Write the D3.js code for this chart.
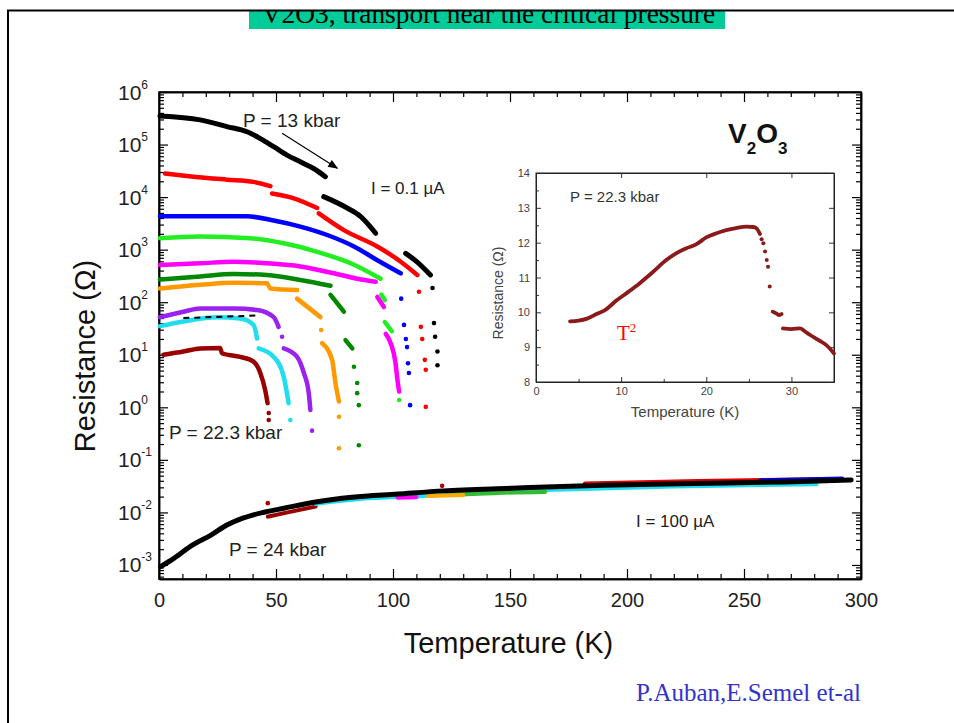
<!DOCTYPE html>
<html><head><meta charset="utf-8">
<script src="https://cdn.jsdelivr.net/npm/d3@7"></script>
<style>body{margin:0;background:#fff}svg{display:block}</style>
</head><body>
<svg id="c" width="954" height="723"></svg>
<script>
// ---------------- DATA ----------------
const xTickLabels = [0, 50, 100, 150, 200, 250, 300];
const yTickExponents = [-3, -2, -1, 0, 1, 2, 3, 4, 5, 6];
const insetXTicks = [0, 10, 20, 30];
const insetYTicks = [8, 9, 10, 11, 12, 13, 14];

// I = 0.1 uA curves: [T (K), R (ohm)] ; segments + scattered points
const black13Segs = [
  [[0.4,3.5e5],[17.6,2.95e5],[29,2.2e5],[37.6,1.75e5],[43.3,1.3e5],[49,9.1e4],[54.7,6.3e4],[60.4,4.7e4],[66.1,3.5e4],[71.1,2.45e4]],
  [[70.4,1.02e4],[80.4,6.2e3],[86.1,4.3e3],[92.6,2.05e3]],
  [[105.4,850],[110,600],[116,330]]
];
const black13Pts = [[116.9,186],[117.5,40],[118,22],[119,11.5],[119,6.3]];

const redSegs = [
  [[2.6,2.8e4],[14.7,2.45e4],[29,2.15e4],[40.4,1.95e4],[47.6,1.62e4]],
  [[48.3,1.17e4],[57.6,9.5e3],[67.6,6.2e3]],
  [[68.3,4.9e3],[79,2.35e3],[93.3,1.15e3],[103.3,590],[110.4,330]]
];
const redPts = [[111.1,158],[111.9,34],[112.5,20],[113.6,8],[114,5.2],[114,1.02]];

const blueSegs = [
  [[0.4,4.3e3],[37.6,4.3e3],[49,3.6e3],[60.4,2.75e3],[71.9,1.9e3],[83.3,1.15e3],[93.3,630],[103.3,355]]
];
const bluePts = [[103.5,117],[104.7,37],[105.5,20],[106,14],[106.4,6.9],[106.8,4.5],[107.3,1.1]];

const greenSegs = [
  [[0.4,1.65e3],[17.6,1.78e3],[39,1.65e3],[53.3,1.32e3],[67.6,910],[81.9,550],[94.7,280]],
  [[95,140],[96.5,110]],
  [[96.5,42],[99.5,28]]
];
const greenPts = [[102.6,1.38]];

const magentaSegs = [
  [[0.4,510],[17.6,550],[31.9,590],[46.1,550],[60.4,480],[74.7,355],[84.7,280],[92.6,245]],
  [[93.3,126],[96.1,81]],
  [[96.9,25],[99,16.6],[101.1,6.9],[101.9,3.3],[102.6,2.0]]
];
const magentaPts = [];

const dkgreenSegs = [
  [[0.4,270],[17.6,310],[31.9,345],[46.1,330],[60.4,265],[73.3,205]],
  [[73.3,138],[79,66]],
  [[79.7,19],[82.6,13.2]]
];
const dkgreenPts = [[83.3,5.9],[84.7,2.9],[84.7,1.86],[85.4,1.1],[85.4,0.19]];

const orangeSegs = [
  [[0.4,182],[17.6,214],[31.9,234],[46.1,229],[47.6,182],[59,170]],
  [[59,117],[69,52]],
  [[69.7,16.6],[74,7.9],[75.4,2.9],[76.9,1.29]]
];
const orangePts = [[69.3,29.5],[76.9,0.66],[76.9,0.166]];

const purpleSegs = [
  [[0.4,52],[10.4,66],[17.6,76],[31.9,76],[41.9,71],[49,52],[51.1,34]],
  [[53.3,13.2],[59,9.1],[61.9,4.5],[64,1.86],[64.7,0.89]]
];
const purplePts = [[52.6,22],[65.4,0.36]];

const cyanSegs = [
  [[0.4,35],[10.4,43],[24.7,52],[34.7,49],[40.4,37],[41.9,20.4]],
  [[42.6,13.2],[49,9.1],[53.3,3.8],[55.4,1.2]]
];
const cyanPts = [[56.1,0.575]];

const blackDashed = [[10.4,50],[43.3,56]];

const dkredSegs = [
  [[1.9,10],[10.4,11.5],[17.6,13.2],[26.1,13.5],[26.9,10.7],[34.7,9.1],[40.4,7.4],[43.3,4.5],[45.4,2.1],[46.4,1.2]]
];
const dkredPts = [[46.9,0.78],[46.9,0.575]];

// I = 100 uA (metallic, P = 24 kbar)
const black24 = [[0.7,9.3e-4],[6.5,1.35e-3],[14.4,2.4e-3],[22.2,3.7e-3],[29,5.75e-3],[35.8,7.8e-3],[45.5,1.02e-2],[53.3,1.2e-2],[66.9,1.58e-2],[82.5,1.95e-2],[102,2.24e-2],[121.5,2.57e-2],[150.7,2.88e-2],[189.7,3.3e-2],[228.6,3.55e-2],[267.6,3.8e-2],[295.8,4.15e-2]];
const metalDkred = [[46.5,8.3e-3],[55,1.0e-2],[66.9,1.29e-2]];
const metalCyan = [[66.9,1.45e-2],[90,1.85e-2],[111.7,2.04e-2],[140,2.4e-2],[170,2.7e-2],[220,3.1e-2],[281,3.45e-2]];
const metalGreen = [[125,2.15e-2],[145,2.35e-2],[165,2.45e-2]];
const metalMagenta = [[102,1.9e-2],[110,1.95e-2]];
const metalOrange = [[115,2.05e-2],[130,2.15e-2]];
const metalRed = [[182,3.55e-2],[230,3.95e-2],[286,4.3e-2]];
const metalBlue = [[257,4.1e-2],[292,4.4e-2]];
const metalRedPts = [[46.5,1.5e-2],[121,3.2e-2]];

const arrow13 = [[52.6,1.64e5],[76.2,3.53e4]];

// Inset: P = 22.3 kbar, linear
const insetSeg1 = [[4,9.74],[5,9.76],[6,9.82],[7.1,9.95],[8.2,10.08],[9.4,10.33],[10.8,10.58],[12.15,10.83],[13.7,11.15],[15.3,11.5],[16.5,11.7],[17.65,11.84],[18.8,11.95],[20,12.15],[21.2,12.27],[22.35,12.36],[23.5,12.42],[24.7,12.46],[25.5,12.45],[25.9,12.41],[26.3,12.25]];
const insetPts = [[26.5,12.1],[26.7,11.98],[26.9,11.75],[27.1,11.5],[27.25,11.31],[27.45,10.74]];
const insetSeg2 = [[27.8,10.02],[28.2,9.97],[28.6,9.92],[28.85,9.95]];
const insetSeg3 = [[29.0,9.54],[30.0,9.52],[31.0,9.54],[31.6,9.45],[32.2,9.35],[33.2,9.2],[34.1,9.06],[35.0,8.82]];

// ---------------- DRAW ----------------
const SANS = "'Liberation Sans', Arial, Helvetica, sans-serif";
const SERIF = "'Liberation Serif', 'Times New Roman', serif";
const svg = d3.select("#c");

// page decoration / title
svg.append("defs").append("clipPath").attr("id","tclip")
  .append("rect").attr("x",0).attr("y",11).attr("width",954).attr("height",40);
svg.append("rect").attr("x",249).attr("y",10).attr("width",476).attr("height",19).attr("fill","#00CC99");
svg.append("text").attr("x",488.5).attr("y",23).attr("text-anchor","middle")
  .attr("font-family",SERIF).attr("font-size",27.4).attr("fill","#000")
  .attr("clip-path","url(#tclip)").text("V2O3, transport near the critical pressure");
svg.append("line").attr("x1",7).attr("x2",954).attr("y1",10.5).attr("y2",10.5).attr("stroke","#000").attr("stroke-width",2);
svg.append("line").attr("x1",8).attr("x2",8).attr("y1",10).attr("y2",723).attr("stroke","#000").attr("stroke-width",2);

svg.append("text").attr("x",636).attr("y",701).attr("font-family",SERIF).attr("font-size",25)
  .attr("fill","#3333CC").text("P.Auban,E.Semel et-al");

// main scales
const x = d3.scaleLinear().domain([0,300]).range([159,861]);
const y = d3.scaleLog().domain([Math.pow(10,-3.267),1e6]).range([579,92]);

const yMajor = yTickExponents.map(e => Math.pow(10,e));
const yMinor = [];
for (let e=-4; e<=5; e++) for (let m=2; m<=9; m++) {
  const v = m*Math.pow(10,e);
  if (v >= y.domain()[0] && v <= 1e6) yMinor.push(v);
}
const xMinor = d3.range(0,301,10).filter(v => v % 50 !== 0);

function styleAxis(g){
  g.selectAll("path.domain").attr("stroke","#000").attr("stroke-width",1.5);
  g.selectAll(".tick line").attr("stroke","#000").attr("stroke-width",1.2);
  g.attr("font-family",SANS);
}
// bottom
svg.append("g").attr("transform","translate(0,579)")
  .call(d3.axisBottom(x).tickValues(xTickLabels).tickSize(-10).tickSizeOuter(0).tickPadding(14).tickFormat(d3.format("d")))
  .call(styleAxis).call(g=>g.selectAll("text").attr("font-size",20).attr("fill","#222"));
svg.append("g").attr("transform","translate(0,579)")
  .call(d3.axisBottom(x).tickValues(xMinor).tickSize(-5).tickSizeOuter(0).tickFormat(""))
  .call(styleAxis);
// top
svg.append("g").attr("transform","translate(0,92)")
  .call(d3.axisTop(x).tickValues(xTickLabels).tickSize(-10).tickSizeOuter(0).tickFormat(""))
  .call(styleAxis);
svg.append("g").attr("transform","translate(0,92)")
  .call(d3.axisTop(x).tickValues(xMinor).tickSize(-5).tickSizeOuter(0).tickFormat(""))
  .call(styleAxis);
// left
svg.append("g").attr("transform","translate(159,0)")
  .call(d3.axisLeft(y).tickValues(yMajor).tickSize(-9).tickSizeOuter(0).tickFormat(""))
  .call(styleAxis);
svg.append("g").attr("transform","translate(159,0)")
  .call(d3.axisLeft(y).tickValues(yMinor).tickSize(-5).tickSizeOuter(0).tickFormat(""))
  .call(styleAxis);
// right
svg.append("g").attr("transform","translate(861,0)")
  .call(d3.axisRight(y).tickValues(yMajor).tickSize(-9).tickSizeOuter(0).tickFormat(""))
  .call(styleAxis);
svg.append("g").attr("transform","translate(861,0)")
  .call(d3.axisRight(y).tickValues(yMinor).tickSize(-5).tickSizeOuter(0).tickFormat(""))
  .call(styleAxis);
svg.append("rect").attr("x",159).attr("y",92).attr("width",702).attr("height",487)
  .attr("fill","none").attr("stroke","#000").attr("stroke-width",1.5);

// y tick labels 10^n
yTickExponents.forEach(e => {
  const t = svg.append("text").attr("x",118).attr("y",y(Math.pow(10,e))+7.5)
    .attr("font-family",SANS).attr("font-size",21).attr("fill","#222").text("10");
  t.append("tspan").attr("dy",-11).attr("font-size",12).text(String(e));
});

// axis titles
svg.append("text").attr("x",508.5).attr("y",653).attr("text-anchor","middle")
  .attr("font-family",SANS).attr("font-size",29).attr("fill","#111").text("Temperature (K)");
svg.append("text").attr("transform","translate(95,356) rotate(-90)").attr("text-anchor","middle")
  .attr("font-family",SANS).attr("font-size",29).attr("fill","#111").text("Resistance (Ω)");

// curves
const line = d3.line().x(d=>x(d[0])).y(d=>y(d[1])).curve(d3.curveMonotoneX);
const plot = svg.append("g");
function drawSeries(segs, pts, color, w){
  segs.forEach(s => plot.append("path").attr("d",line(s)).attr("fill","none")
    .attr("stroke",color).attr("stroke-width",w).attr("stroke-linecap","round").attr("stroke-linejoin","round"));
  pts.forEach(p => plot.append("circle").attr("cx",x(p[0])).attr("cy",y(p[1])).attr("r",2.3).attr("fill",color));
}
// metallic colored traces first, then black
drawSeries([metalDkred],[], "#990000", 4);
drawSeries([metalCyan],[], "#22DDEE", 4);
drawSeries([metalGreen],[], "#33BB33", 4);
drawSeries([metalMagenta],[], "#FF00FF", 4);
drawSeries([metalOrange],[], "#FFAA00", 4);
drawSeries([metalRed],[], "#DD0000", 4);
drawSeries([metalBlue],[], "#0000DD", 4);
drawSeries([black24], [], "#000", 5);
metalRedPts.forEach(p => plot.append("circle").attr("cx",x(p[0])).attr("cy",y(p[1])).attr("r",2.3).attr("fill","#AA0000"));

drawSeries(black13Segs, black13Pts, "#000", 5);
drawSeries(redSegs, redPts, "#FF0000", 4.5);
drawSeries(blueSegs, bluePts, "#0000FF", 4.5);
drawSeries(greenSegs, greenPts, "#22EE22", 4.5);
drawSeries(magentaSegs, magentaPts, "#FF00FF", 4.5);
drawSeries(dkgreenSegs, dkgreenPts, "#008800", 4.5);
drawSeries(orangeSegs, orangePts, "#FF9900", 4.5);
drawSeries(purpleSegs, purplePts, "#9922EE", 4.5);
drawSeries(cyanSegs, cyanPts, "#22DDEE", 4.5);
drawSeries(dkredSegs, dkredPts, "#990000", 4.5);
plot.append("path").attr("d",d3.line().x(d=>x(d[0])).y(d=>y(d[1]))(blackDashed)).attr("fill","none").attr("stroke","#000")
  .attr("stroke-width",2).attr("stroke-dasharray","6,5");

// arrow
svg.select("defs").append("marker").attr("id","ah").attr("viewBox","0 0 10 10")
  .attr("refX",9).attr("refY",5).attr("markerWidth",12).attr("markerHeight",10).attr("orient","auto")
  .attr("markerUnits","userSpaceOnUse")
  .append("path").attr("d","M0,1 L10,5 L0,9 Z").attr("fill","#000");
plot.append("path").attr("d",d3.line().x(d=>x(d[0])).y(d=>y(d[1]))(arrow13)).attr("stroke","#000").attr("stroke-width",1.2)
  .attr("fill","none").attr("marker-end","url(#ah)");

// annotations
function label(xp, yp, txt, fs){
  return svg.append("text").attr("x",xp).attr("y",yp).attr("font-family",SANS)
    .attr("font-size",fs).attr("fill","#222").text(txt);
}
label(243,127,"P = 13 kbar",19);
label(371,194,"I = 0.1 µA",17);
label(169,439,"P = 22.3 kbar",19);
label(229,556,"P = 24 kbar",19);
label(636,527,"I = 100 µA",17);
const v2o3 = svg.append("text").attr("x",728).attr("y",143).attr("font-family",SANS)
  .attr("font-size",28).attr("font-weight","bold").attr("fill","#111");
v2o3.append("tspan").text("V");
v2o3.append("tspan").attr("dy",11).attr("font-size",17).text("2");
v2o3.append("tspan").attr("dy",-11).text("O");
v2o3.append("tspan").attr("dy",11).attr("font-size",17).text("3");

// ---------------- INSET ----------------
const ix = d3.scaleLinear().domain([0,35]).range([536,834]);
const iy = d3.scaleLinear().domain([8,14]).range([382,173]);
const ins = svg.append("g");
ins.append("rect").attr("x",536).attr("y",173).attr("width",298).attr("height",209).attr("fill","#fff");
const ixMinor = [5,15,25,35];
const iyMinor = [8.5,9.5,10.5,11.5,12.5,13.5];
function styleI(g){
  g.selectAll("path.domain").attr("stroke","#222").attr("stroke-width",1);
  g.selectAll(".tick line").attr("stroke","#333").attr("stroke-width",1);
  g.attr("font-family",SANS);
  g.selectAll("text").attr("font-size",11).attr("fill","#444");
}
ins.append("g").attr("transform","translate(0,382)")
  .call(d3.axisBottom(ix).tickValues(insetXTicks).tickSize(-5).tickSizeOuter(0).tickPadding(5).tickFormat(d3.format("d"))).call(styleI);
ins.append("g").attr("transform","translate(0,382)")
  .call(d3.axisBottom(ix).tickValues(ixMinor).tickSize(-3).tickSizeOuter(0).tickFormat("")).call(styleI);
ins.append("g").attr("transform","translate(0,173)")
  .call(d3.axisTop(ix).tickValues(insetXTicks).tickSize(-5).tickSizeOuter(0).tickFormat("")).call(styleI);
ins.append("g").attr("transform","translate(536,0)")
  .call(d3.axisLeft(iy).tickValues(insetYTicks).tickSize(-5).tickSizeOuter(0).tickPadding(6).tickFormat(d3.format("d"))).call(styleI);
ins.append("g").attr("transform","translate(536,0)")
  .call(d3.axisLeft(iy).tickValues(iyMinor).tickSize(-3).tickSizeOuter(0).tickFormat("")).call(styleI);
ins.append("g").attr("transform","translate(834,0)")
  .call(d3.axisRight(iy).tickValues(insetYTicks).tickSize(-5).tickSizeOuter(0).tickFormat("")).call(styleI);
ins.append("rect").attr("x",536).attr("y",173).attr("width",298).attr("height",209)
  .attr("fill","none").attr("stroke","#222").attr("stroke-width",1);

const iline = d3.line().x(d=>ix(d[0])).y(d=>iy(d[1])).curve(d3.curveMonotoneX);
[insetSeg1, insetSeg2, insetSeg3].forEach(s => ins.append("path").attr("d",iline(s)).attr("fill","none")
  .attr("stroke","#8B1A1A").attr("stroke-width",3.8).attr("stroke-linecap","round").attr("stroke-linejoin","round"));
insetPts.forEach(p => ins.append("circle").attr("cx",ix(p[0])).attr("cy",iy(p[1])).attr("r",2).attr("fill","#8B1A1A"));

ins.append("text").attr("x",570).attr("y",202).attr("font-family",SANS).attr("font-size",15)
  .attr("fill","#333").text("P = 22.3 kbar");
ins.append("text").attr("x",685).attr("y",417).attr("text-anchor","middle").attr("font-family",SANS)
  .attr("font-size",15).attr("fill","#444").text("Temperature (K)");
ins.append("text").attr("transform","translate(503,293) rotate(-90)").attr("text-anchor","middle")
  .attr("font-family",SANS).attr("font-size",14).attr("fill","#444").text("Resistance (Ω)");
const t2 = ins.append("text").attr("x",617).attr("y",340).attr("font-family",SERIF)
  .attr("font-size",21).attr("fill","#FF0000").text("T");
t2.append("tspan").attr("dy",-8).attr("font-size",13).text("2");
</script>
</body></html>
